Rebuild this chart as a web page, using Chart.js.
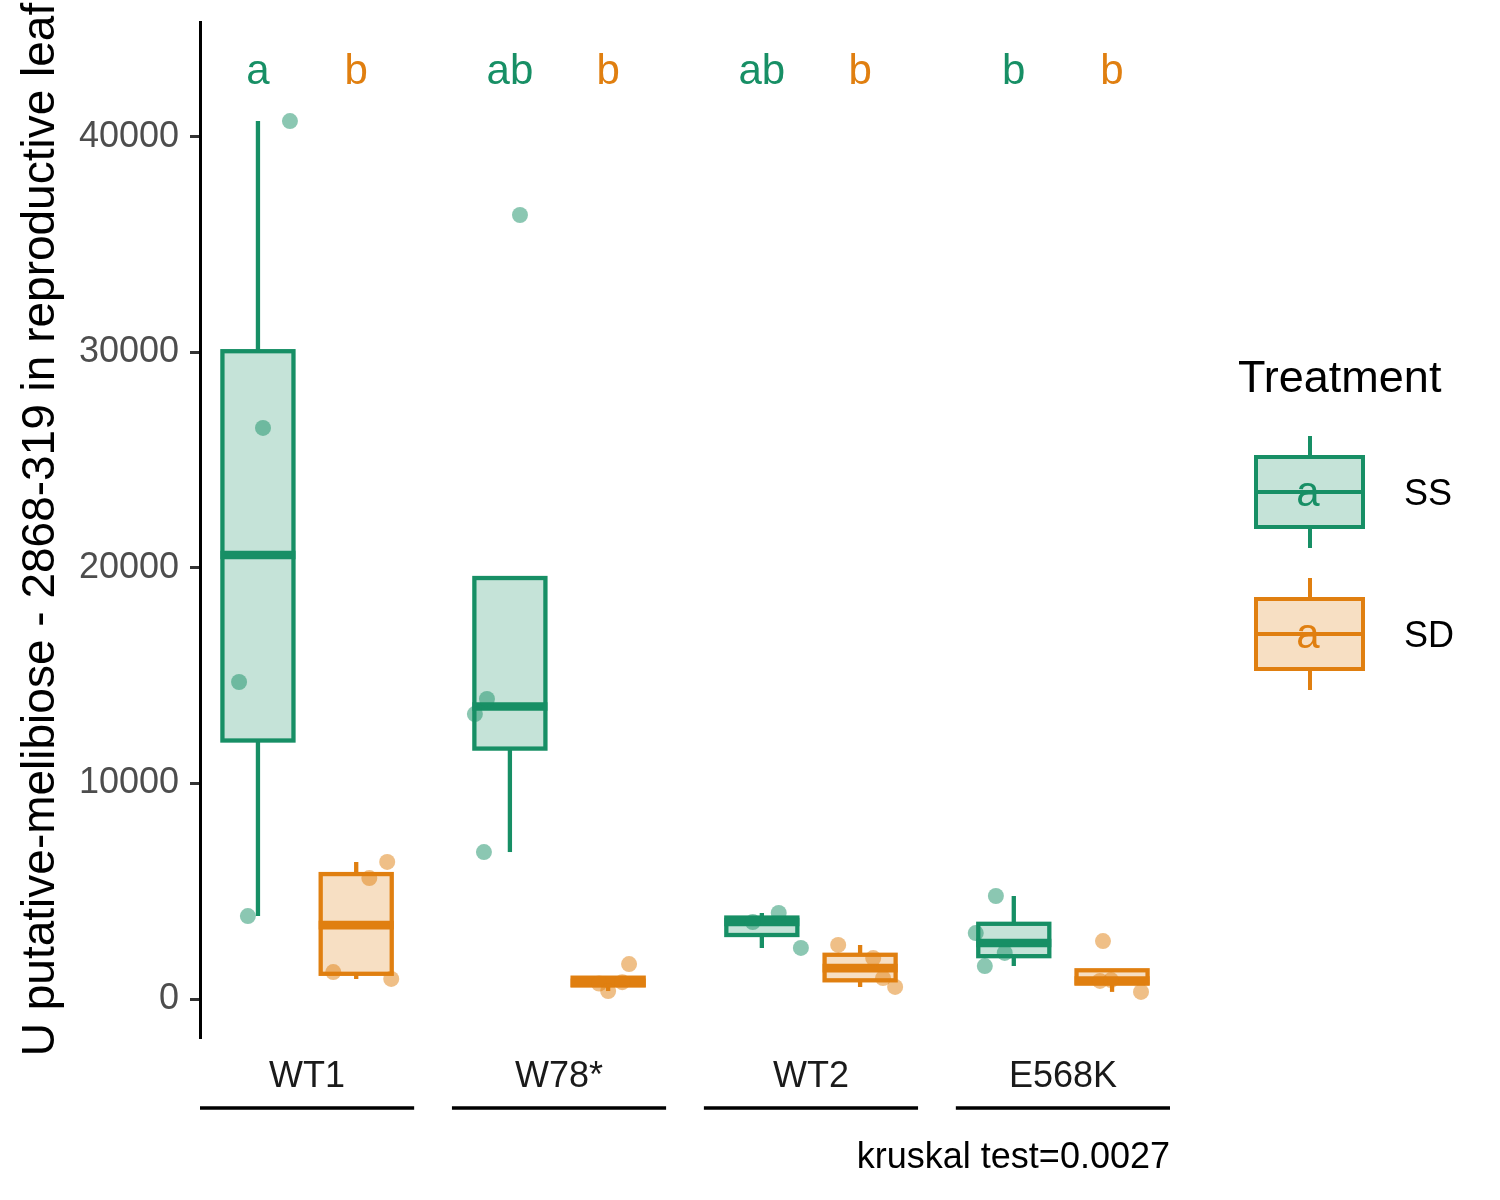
<!DOCTYPE html>
<html>
<head>
<meta charset="utf-8">
<script src="https://cdn.jsdelivr.net/npm/chart.js@4.4.1/dist/chart.umd.min.js"></script>
<style>
  html, body { margin: 0; padding: 0; background: #fff; }
  #wrap { width: 1500px; height: 1200px; }
</style>
</head>
<body>
<div id="wrap"><canvas id="chart"></canvas></div>
<script>
// data
const genotypes = ['WT1', 'W78*', 'WT2', 'E568K'];
const treatments = ['SS', 'SD'];
const ssValues = [
  [40740, 26500, 14710, 3850],
  [36380, 13920, 13220, 6820],
  [3570, 3990, 2370],
  [4780, 3060, 2140, 1530]
];
const sdValues = [
  [6360, 5610, 1250, 930],
  [1620, 720, 780, 370],
  [2510, 1900, 970, 560],
  [2690, 840, 880, 330]
];
// horizontal jitter of each point (category units)
const ssJitter = [
  [0.127, 0.02, -0.075, -0.04],
  [0.04, -0.091, -0.139, -0.103],
  [-0.036, 0.067, 0.155],
  [-0.071, -0.151, -0.036, -0.115]
];
const sdJitter = [
  [0.123, 0.052, -0.091, 0.139],
  [0.083, -0.036, 0.056, 0],
  [-0.087, 0.052, 0.091, 0.139],
  [-0.036, -0.048, -0.004, 0.115]
];
const ssLetters = ['a', 'ab', 'ab', 'b'];
const sdLetters = ['b', 'b', 'b', 'b'];
const letterLevel = 43000;
const yTicks = [0, 10000, 20000, 30000, 40000];
const yTitle = 'U putative-melibiose - 2868-319 in reproductive leaf';
const caption = 'kruskal test=0.0027';

const FONT = "'Liberation Sans', Arial, Helvetica, sans-serif";
const lineCol = ['#178F65', '#E07F10'];
const fillCol = ['rgba(23,143,101,0.25)', 'rgba(224,127,16,0.25)'];
const ptCol = ['rgba(23,143,101,0.5)', 'rgba(224,127,16,0.5)'];
const dodge = [-0.195, 0.195];
const boxWidth = 0.282;

function quantile(sorted, p) {
  const h = (sorted.length - 1) * p;
  const lo = Math.floor(h), hi = Math.ceil(h);
  return sorted[lo] + (h - lo) * (sorted[hi] - sorted[lo]);
}
function boxStats(vals) {
  const s = vals.slice().sort((a, b) => a - b);
  const q1 = quantile(s, 0.25), med = quantile(s, 0.5), q3 = quantile(s, 0.75);
  const iqr = q3 - q1;
  const lo = Math.min(...s.filter(v => v >= q1 - 1.5 * iqr));
  const hi = Math.max(...s.filter(v => v <= q3 + 1.5 * iqr));
  return { q1, med, q3, lo, hi };
}

const allValues = [ssValues, sdValues];
const allJitter = [ssJitter, sdJitter];

const datasets = treatments.map((t, ti) => ({
  label: t,
  data: allValues[ti].flatMap((vals, g) =>
    vals.map((v, k) => ({ x: g + 1 + dodge[ti] + allJitter[ti][g][k], y: v }))),
  backgroundColor: ptCol[ti],
  borderWidth: 0,
  pointRadius: 8,
  pointHoverRadius: 8
}));

const boxPlugin = {
  id: 'boxes',
  beforeDatasetsDraw(chart) {
    const { ctx, scales: { x, y } } = chart;
    const half = (x.getPixelForValue(1 + boxWidth / 2) - x.getPixelForValue(1));
    ctx.save();
    allValues.forEach((groups, ti) => {
      groups.forEach((vals, g) => {
        const s = boxStats(vals);
        const cx = x.getPixelForValue(g + 1 + dodge[ti]);
        const yq1 = y.getPixelForValue(s.q1), yq3 = y.getPixelForValue(s.q3);
        const ymed = y.getPixelForValue(s.med);
        ctx.strokeStyle = lineCol[ti];
        ctx.lineWidth = 4.3;
        ctx.lineCap = 'butt';
        ctx.beginPath();
        if (s.hi > s.q3) { ctx.moveTo(cx, yq3); ctx.lineTo(cx, y.getPixelForValue(s.hi)); }
        if (s.lo < s.q1) { ctx.moveTo(cx, yq1); ctx.lineTo(cx, y.getPixelForValue(s.lo)); }
        ctx.stroke();
        ctx.fillStyle = '#fff';
        ctx.fillRect(cx - half, yq3, 2 * half, yq1 - yq3);
        ctx.fillStyle = fillCol[ti];
        ctx.fillRect(cx - half, yq3, 2 * half, yq1 - yq3);
        ctx.strokeRect(cx - half, yq3, 2 * half, yq1 - yq3);
        ctx.lineWidth = 8.6;
        ctx.beginPath();
        ctx.moveTo(cx - half - 2, ymed);
        ctx.lineTo(cx + half + 2, ymed);
        ctx.stroke();
      });
    });
    ctx.restore();
  }
};

const decorPlugin = {
  id: 'decor',
  afterDraw(chart) {
    const { ctx, scales: { x, y } } = chart;
    ctx.save();
    // significance letters
    ctx.font = `42px ${FONT}`;
    ctx.textAlign = 'center';
    ctx.textBaseline = 'middle';
    [ssLetters, sdLetters].forEach((letters, ti) => {
      ctx.fillStyle = lineCol[ti];
      letters.forEach((l, g) => {
        ctx.fillText(l, x.getPixelForValue(g + 1 + dodge[ti]), y.getPixelForValue(letterLevel));
      });
    });
    // group brackets under the labels
    ctx.strokeStyle = '#000';
    ctx.lineWidth = 3.5;
    const by = x.top + 71;
    genotypes.forEach((_, g) => {
      ctx.beginPath();
      ctx.moveTo(x.getPixelForValue(g + 1 - 0.425), by);
      ctx.lineTo(x.getPixelForValue(g + 1 + 0.425), by);
      ctx.stroke();
    });
    // legend
    ctx.fillStyle = '#000';
    ctx.textAlign = 'left';
    ctx.font = `45px ${FONT}`;
    ctx.fillText('Treatment', 1238, 380);
    const keyX = 1256, keyW = 107, keyCx = 1310;
    const keyY = [457, 599];
    treatments.forEach((t, ti) => {
      const top = keyY[ti], h = 70;
      ctx.strokeStyle = lineCol[ti];
      ctx.lineWidth = 4;
      ctx.beginPath();
      ctx.moveTo(keyCx, top - 21); ctx.lineTo(keyCx, top);
      ctx.moveTo(keyCx, top + h); ctx.lineTo(keyCx, top + h + 21);
      ctx.stroke();
      ctx.fillStyle = fillCol[ti];
      ctx.fillRect(keyX, top, keyW, h);
      ctx.strokeRect(keyX, top, keyW, h);
      ctx.beginPath();
      ctx.moveTo(keyX, top + h / 2); ctx.lineTo(keyX + keyW, top + h / 2);
      ctx.stroke();
      ctx.fillStyle = lineCol[ti];
      ctx.textAlign = 'center';
      ctx.font = `42px ${FONT}`;
      ctx.fillText('a', keyCx - 2, top + h / 2 + 2);
      ctx.fillStyle = '#000';
      ctx.textAlign = 'left';
      ctx.font = `36px ${FONT}`;
      ctx.fillText(t, 1404, top + h / 2 + 3);
    });
    ctx.restore();
  }
};

new Chart(document.getElementById('chart'), {
  type: 'scatter',
  data: { datasets },
  options: {
    responsive: true,
    maintainAspectRatio: false,
    animation: false,
    devicePixelRatio: 1,
    layout: { padding: { left: 0, top: 22, right: 330, bottom: 20 } },
    plugins: { legend: { display: false }, tooltip: { enabled: false } },
    scales: {
      x: {
        type: 'linear',
        min: 0.575,
        max: 4.425,
        afterBuildTicks: (scale) => { scale.ticks = genotypes.map((_, i) => ({ value: i + 1 })); },
        afterFit: (scale) => { scale.height = 143; scale.paddingLeft = 0; scale.paddingRight = 0; },
        grid: { display: false },
        border: { display: false },
        ticks: {
          callback: (v, i) => genotypes[i],
          font: { family: FONT, size: 36 },
          color: '#1a1a1a',
          padding: 10,
          maxRotation: 0,
          autoSkip: false
        },
        title: {
          display: true,
          text: caption,
          align: 'end',
          font: { family: FONT, size: 36 },
          color: '#000',
          padding: 0
        }
      },
      y: {
        min: -1763,
        max: 45336,
        afterBuildTicks: (scale) => { scale.ticks = yTicks.map(v => ({ value: v })); },
        afterFit: (scale) => { scale.width = 200; scale.paddingTop = 0; scale.paddingBottom = 0; },
        grid: { drawOnChartArea: false, drawTicks: true, tickLength: 10, color: '#333', lineWidth: 3 },
        border: { display: true, color: '#000', width: 3 },
        ticks: {
          font: { family: FONT, size: 36 },
          color: '#4d4d4d',
          padding: 11,
          callback: (v) => String(v)
        },
        title: {
          display: true,
          text: yTitle,
          font: { family: FONT, size: 46 },
          color: '#000',
          padding: { top: 14, bottom: 0 }
        }
      }
    }
  },
  plugins: [boxPlugin, decorPlugin]
});
</script>
</body>
</html>
